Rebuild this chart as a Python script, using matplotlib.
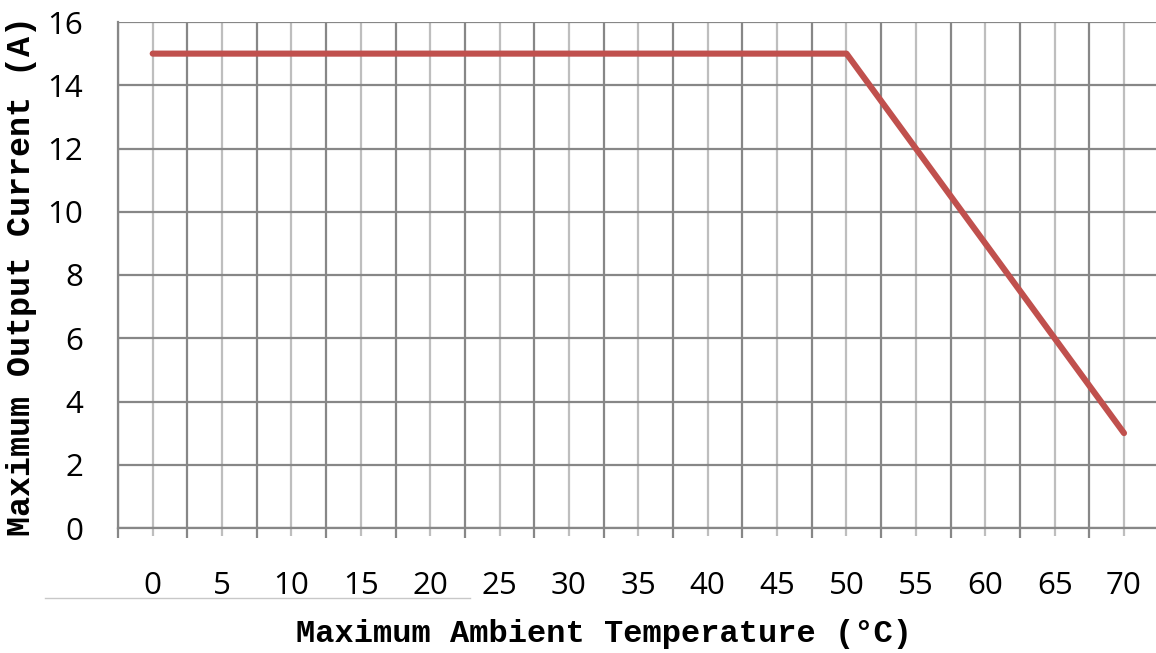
import matplotlib.pyplot as plt
from matplotlib.lines import Line2D

# derating curve
temp = [0, 50, 70]
current = [15, 15, 3]
x_ticks = list(range(0, 75, 5))
x_bounds = [t - 2.5 for t in x_ticks]
y_ticks = list(range(0, 18, 2))

dark = "#878787"
light = "#BEBEBE"

fig = plt.figure(figsize=(11.56, 6.53), dpi=100)
ax = fig.add_axes([118 / 1156, 1 - 528 / 653, 1 - 118 / 1156, (528 - 22) / 653])

ax.plot(temp, current, color="#C0504D", linewidth=4.4, solid_capstyle="round", zorder=3)

ax.set_xlim(-2.5, -2.5 + (1156 - 118) / 13.876)
ax.set_ylim(0, 16)

ax.set_xticks(x_ticks)
ax.set_xticks(x_bounds, minor=True)
ax.set_yticks(y_ticks)

ax.grid(axis="x", which="major", color=light, linewidth=1.6)
ax.grid(axis="x", which="minor", color=dark, linewidth=1.6)
ax.grid(axis="y", which="major", color=dark, linewidth=1.6)
ax.set_axisbelow(True)

for s in ["top", "right"]:
    ax.spines[s].set_visible(False)
for s in ["left", "bottom"]:
    ax.spines[s].set_color(dark)
    ax.spines[s].set_linewidth(1.6)

ax.tick_params(axis="x", which="major", length=6, width=1.6, color=light, pad=25,
               labelsize=22.5, labelfontfamily="Open Sans")
ax.tick_params(axis="x", which="minor", length=7.5, width=1.6, color=dark)
ax.tick_params(axis="y", length=0, pad=25, labelsize=22.5, labelfontfamily="Open Sans")

fig.text(604 / 1156, 1 - 634 / 653, "Maximum Ambient Temperature (°C)", ha="center", va="center",
         fontfamily="Liberation Mono", fontweight="bold", fontsize=23)
fig.text(22 / 1156, 1 - 276 / 653, "Maximum Output Current (A)", ha="center", va="center",
         rotation=90, fontfamily="Liberation Mono", fontweight="bold", fontsize=24)

# thin separator line under the left tick labels
fig.add_artist(Line2D([45 / 1156, 470 / 1156], [1 - 598 / 653] * 2, color="#C8C8C8", linewidth=1))

fig.savefig("out.png", dpi=100)
